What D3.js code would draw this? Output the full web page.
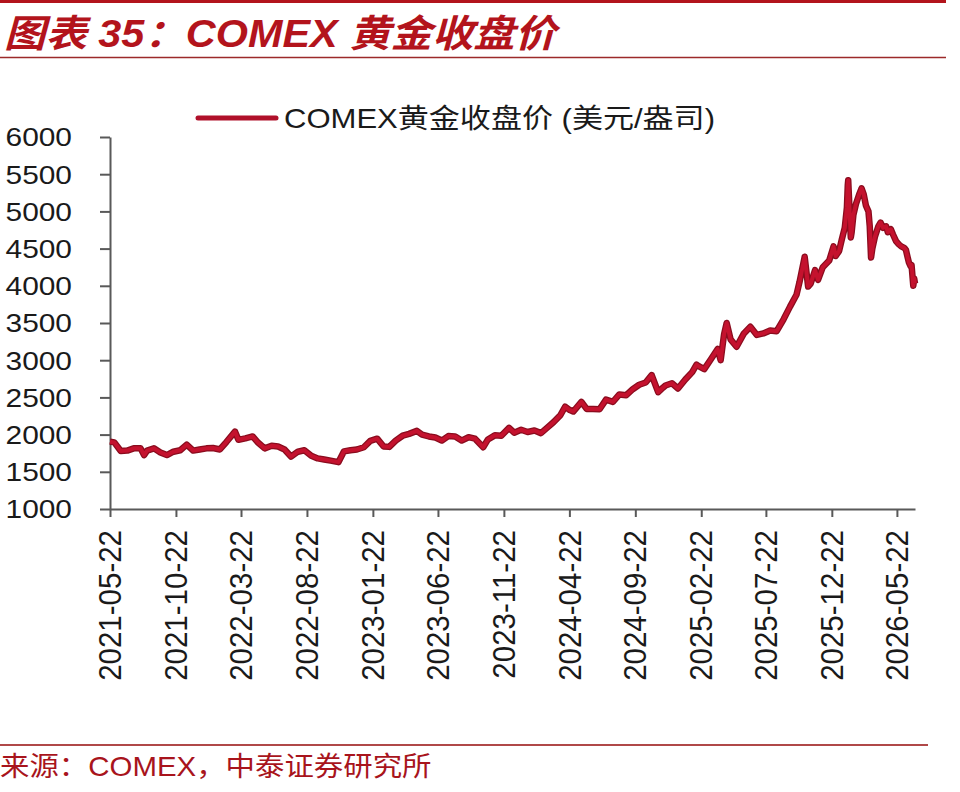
<!DOCTYPE html>
<html>
<head>
<meta charset="utf-8">
<script src="https://cdn.jsdelivr.net/npm/d3@7"></script>
<style>
  html, body { margin: 0; padding: 0; background: #fff; }
  svg { display: block; }
</style>
</head>
<body>
<div id="chart"></div>
<script>
// 标题 / 图例 / 来源
const titleText = "图表 35：COMEX 黄金收盘价";
const legendText = "COMEX黄金收盘价 (美元/盎司)";
const sourceText = "来源：COMEX，中泰证券研究所";

// 坐标轴刻度
const xTickLabels = ["2021-05-22", "2021-10-22", "2022-03-22", "2022-08-22", "2023-01-22", "2023-06-22",
  "2023-11-22", "2024-04-22", "2024-09-22", "2025-02-22", "2025-07-22", "2025-12-22", "2026-05-22"];
const yTicks = [1000, 1500, 2000, 2500, 3000, 3500, 4000, 4500, 5000, 5500, 6000];

// 收盘价
const gold2021 = [["2021-05-22",1905],["2021-06-01",1895],["2021-06-16",1780],["2021-07-01",1785],["2021-07-16",1815],
  ["2021-08-01",1815],["2021-08-09",1725],["2021-08-16",1785],["2021-09-01",1815],["2021-09-16",1760],["2021-10-01",1725],
  ["2021-10-16",1770],["2021-11-01",1790],["2021-11-16",1865],["2021-12-01",1785],["2021-12-16",1800]];
const gold2022 = [["2022-01-01",1815],["2022-01-16",1820],["2022-02-01",1800],["2022-02-16",1900],["2022-03-08",2040],
  ["2022-03-16",1930],["2022-04-01",1950],["2022-04-18",1975],["2022-05-01",1890],["2022-05-16",1815],["2022-06-01",1850],
  ["2022-06-16",1840],["2022-07-01",1800],["2022-07-16",1705],["2022-08-01",1770],["2022-08-16",1790],["2022-09-01",1715],
  ["2022-09-16",1680],["2022-10-01",1665],["2022-10-16",1650],["2022-11-03",1630],["2022-11-16",1775],["2022-12-01",1790],
  ["2022-12-16",1800]];
const gold2023 = [["2023-01-01",1830],["2023-01-16",1915],["2023-02-01",1945],["2023-02-16",1840],["2023-03-01",1835],
  ["2023-03-16",1920],["2023-04-01",1985],["2023-04-16",2010],["2023-05-04",2050],["2023-05-16",2000],["2023-06-01",1975],
  ["2023-06-16",1960],["2023-07-01",1920],["2023-07-16",1980],["2023-08-01",1975],["2023-08-16",1920],["2023-09-01",1965],
  ["2023-09-16",1945],["2023-10-05",1830],["2023-10-16",1935],["2023-11-01",1990],["2023-11-16",1985],["2023-12-04",2090],
  ["2023-12-16",2025]];
const gold2024 = [["2024-01-01",2065],["2024-01-16",2035],["2024-02-01",2055],["2024-02-16",2020],["2024-03-01",2090],
  ["2024-03-16",2165],["2024-04-01",2260],["2024-04-12",2375],["2024-04-23",2330],["2024-05-01",2310],["2024-05-20",2440],
  ["2024-06-01",2345],["2024-06-16",2345],["2024-07-01",2340],["2024-07-16",2470],["2024-08-01",2440],["2024-08-16",2540],
  ["2024-09-01",2530],["2024-09-16",2610],["2024-10-01",2670],["2024-10-16",2700],["2024-10-30",2800],["2024-11-14",2570],
  ["2024-11-25",2630],["2024-12-01",2660],["2024-12-16",2690],["2024-12-30",2620]];
const gold2025 = [["2025-01-16",2740],["2025-02-01",2840],["2025-02-11",2940],["2025-02-16",2920],["2025-03-01",2880],
  ["2025-03-16",3010],["2025-04-01",3150],["2025-04-08",3000],["2025-04-16",3350],["2025-04-22",3500],["2025-05-01",3280],
  ["2025-05-15",3180],["2025-06-01",3360],["2025-06-16",3450],["2025-07-01",3340],["2025-07-16",3360],["2025-08-01",3400],
  ["2025-08-16",3390],["2025-09-01",3550],["2025-09-16",3720],["2025-10-01",3880],["2025-10-08",4050],["2025-10-20",4390],
  ["2025-10-28",3990],["2025-11-03",4030],["2025-11-13",4210],["2025-11-20",4080],["2025-12-01",4250],["2025-12-16",4340],
  ["2025-12-26",4530],["2025-12-31",4400]];
const gold2026 = [["2026-01-08",4470],["2026-01-14",4620],["2026-01-21",4780],["2026-01-26",5050],["2026-01-28",5350],
  ["2026-01-29",5420],["2026-02-02",4900],["2026-02-04",4650],["2026-02-06",4720],["2026-02-10",4950],["2026-02-16",5100],
  ["2026-02-23",5220],["2026-03-01",5310],["2026-03-06",5230],["2026-03-11",5080],["2026-03-17",5000],["2026-03-20",4800],
  ["2026-03-23",4380],["2026-03-26",4500],["2026-04-01",4660],["2026-04-09",4800],["2026-04-14",4850],["2026-04-20",4780],
  ["2026-04-27",4800],["2026-05-01",4720],["2026-05-08",4760],["2026-05-13",4690],["2026-05-20",4600],["2026-05-26",4560],
  ["2026-06-01",4530],["2026-06-08",4510],["2026-06-12",4480],["2026-06-16",4380],["2026-06-19",4310],["2026-06-23",4260],
  ["2026-06-25",4280],["2026-06-29",4000],["2026-07-01",4100],["2026-07-03",4030]];

const W = 960, H = 792;
const red = "#b3141c";
const lineColor = "#c4122e";
const axisColor = "#595959";
const numFont = "'Liberation Sans', Arial, 'Noto Sans CJK SC', sans-serif";
const SX = 1.15; // 原图横向略有拉伸

const parse = d3.utcParse("%Y-%m-%d");
const data = [].concat(gold2021, gold2022, gold2023, gold2024, gold2025, gold2026)
  .map(d => ({ date: parse(d[0]), value: d[1] }));

const svg = d3.select("#chart").append("svg")
  .attr("width", W).attr("height", H);

// 顶部红条、标题、分隔线
svg.append("rect").attr("x", 0).attr("y", 0).attr("width", 946).attr("height", 3).attr("fill", red);
svg.append("g").attr("transform", `translate(4,47) scale(1.09,1)`)
  .append("text")
  .attr("font-family", numFont)
  .attr("font-size", 38)
  .attr("font-weight", "bold")
  .attr("font-style", "italic")
  .attr("fill", red)
  .text(titleText);
svg.append("line").attr("x1", 0).attr("x2", 946).attr("y1", 57.5).attr("y2", 57.5)
  .attr("stroke", "#9c2a2a").attr("stroke-width", 1.5);

// 比例尺
const x = d3.scaleUtc()
  .domain([parse("2021-05-22"), parse("2026-07-03")])
  .range([110, 915]);
const y = d3.scaleLinear()
  .domain([1000, 6000])
  .range([509, 137]);

// y 轴
const yAxis = svg.append("g")
  .attr("transform", "translate(110,0)")
  .call(d3.axisLeft(y).tickValues(yTicks).tickSize(10).tickSizeOuter(0).tickFormat(""));
yAxis.selectAll("path, line").attr("stroke", axisColor).attr("stroke-width", 2);

svg.append("g").selectAll("g")
  .data(yTicks)
  .join("g")
  .attr("transform", d => `translate(72,${y(d)}) scale(${SX},1)`)
  .append("text")
  .attr("text-anchor", "end")
  .attr("dy", "0.36em")
  .attr("font-family", numFont)
  .attr("font-size", 26)
  .attr("fill", "#1a1a1a")
  .text(d => d);

// x 轴
const xTicks = xTickLabels.map(parse);
const xAxis = svg.append("g")
  .attr("transform", "translate(0,509)")
  .call(d3.axisBottom(x).tickValues(xTicks).tickSize(8).tickSizeOuter(0).tickFormat(""));
xAxis.selectAll("path, line").attr("stroke", axisColor).attr("stroke-width", 2);

svg.append("g").selectAll("g")
  .data(xTicks)
  .join("g")
  .attr("transform", d => `translate(${x(d)},530) scale(1.05,1) rotate(-90)`)
  .append("text")
  .attr("text-anchor", "end")
  .attr("dy", "0.36em")
  .attr("font-family", numFont)
  .attr("font-size", 29.5)
  .attr("fill", "#1a1a1a")
  .text(d3.utcFormat("%Y-%m-%d"));

// 折线
const line = d3.line()
  .x(d => x(d.date))
  .y(d => y(d.value));

svg.append("path")
  .datum(data)
  .attr("fill", "none")
  .attr("stroke", "#8a0c1e")
  .attr("stroke-width", 6.5)
  .attr("stroke-linejoin", "round")
  .attr("d", line);
svg.append("path")
  .datum(data)
  .attr("fill", "none")
  .attr("stroke", lineColor)
  .attr("stroke-width", 4)
  .attr("stroke-linejoin", "round")
  .attr("d", line);

// 图例
svg.append("line")
  .attr("x1", 198).attr("x2", 276).attr("y1", 118).attr("y2", 118)
  .attr("stroke", "#b0102a").attr("stroke-width", 5).attr("stroke-linecap", "round");
svg.append("g").attr("transform", `translate(284,128) scale(${SX},1)`)
  .append("text")
  .attr("font-family", numFont)
  .attr("font-size", 27)
  .attr("fill", "#1a1a1a")
  .text(legendText);

// 来源
svg.append("line").attr("x1", 0).attr("x2", 928).attr("y1", 745).attr("y2", 745)
  .attr("stroke", "#b04848").attr("stroke-width", 2);
svg.append("g").attr("transform", `translate(0,776) scale(1.09,1)`)
  .append("text")
  .attr("font-family", numFont)
  .attr("font-size", 27)
  .attr("fill", "#a8141c")
  .text(sourceText);
</script>
</body>
</html>
